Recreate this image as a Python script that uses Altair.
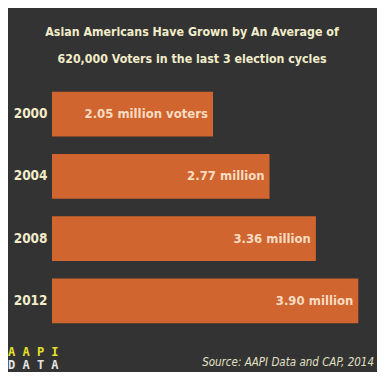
import altair as alt
import pandas as pd

years = ["2000", "2004", "2008", "2012"]
voters = [2.05, 2.77, 3.36, 3.90]
labels = ["2.05 million voters", "2.77 million", "3.36 million", "3.90 million"]
title_lines = ["Asian Americans Have Grown by An Average of",
               "620,000 Voters in the last 3 election cycles"]
source = "Source: AAPI Data and CAP, 2014"

BG = "#333333"
BAR = "#d0652f"
CREAM = "#f1ecc9"
LABEL = "#f8dcc2"
FONT = "DejaVu Sans Condensed, sans-serif"

df = pd.DataFrame({"year": years, "voters": voters, "label": labels})

W, H = 322, 249

y_enc = alt.Y("year:N", sort=years,
              scale=alt.Scale(paddingInner=0.28, paddingOuter=0.14),
              axis=alt.Axis(title=None, ticks=False, domain=False,
                            labelFont=FONT, labelFontSize=13.5,
                            labelFontWeight="bold", labelColor=CREAM,
                            labelPadding=5))
x_scale = alt.Scale(domain=[0, 4.1], nice=False)

bars = alt.Chart(df).mark_bar(color=BAR).encode(
    x=alt.X("voters:Q", scale=x_scale, axis=None),
    y=y_enc,
)

text = alt.Chart(df).mark_text(
    align="right", baseline="middle", dx=-5,
    font=FONT, fontSize=13, fontWeight="bold", color=LABEL,
).encode(
    x=alt.X("voters:Q", scale=x_scale, axis=None),
    y=alt.Y("year:N", sort=years),
    text="label:N",
)

tdf = pd.DataFrame({"t": title_lines, "yy": [-47, -20]})
title = alt.Chart(tdf).mark_text(
    align="center", baseline="alphabetic", font=FONT, fontSize=12.3,
    fontWeight="bold", color=CREAM,
).encode(
    x=alt.value(140),
    y=alt.Y("yy:Q", scale=None),
    text="t:N",
)

src = alt.Chart(pd.DataFrame({"t": [source]})).mark_text(
    align="right", baseline="alphabetic", font=FONT, fontSize=11.5,
    fontStyle="italic", color="#e2e0c4",
).encode(x=alt.value(322), y=alt.value(283), text="t:N")

logo1 = alt.Chart(pd.DataFrame({"t": ["A A P I"]})).mark_text(
    align="left", baseline="alphabetic", font="DejaVu Sans Mono",
    fontSize=12, fontWeight="bold", color="#e6e02a",
).encode(x=alt.value(-44), y=alt.value(273), text="t:N")

logo2 = alt.Chart(pd.DataFrame({"t": ["D A T A"]})).mark_text(
    align="left", baseline="alphabetic", font="DejaVu Sans Mono",
    fontSize=12, fontWeight="bold", color="#e4e4e4",
).encode(x=alt.value(-44), y=alt.value(286), text="t:N")

chart = alt.layer(bars, text, title, src, logo1, logo2).properties(
    width=W, height=H,
    autosize=alt.AutoSizeParams(type="none"),
    padding={"left": 44, "top": 75, "right": 3, "bottom": 40},
    background=BG,
).configure_view(stroke=None)

chart.save("out.html", embed_options={"renderer": "svg", "actions": False})
